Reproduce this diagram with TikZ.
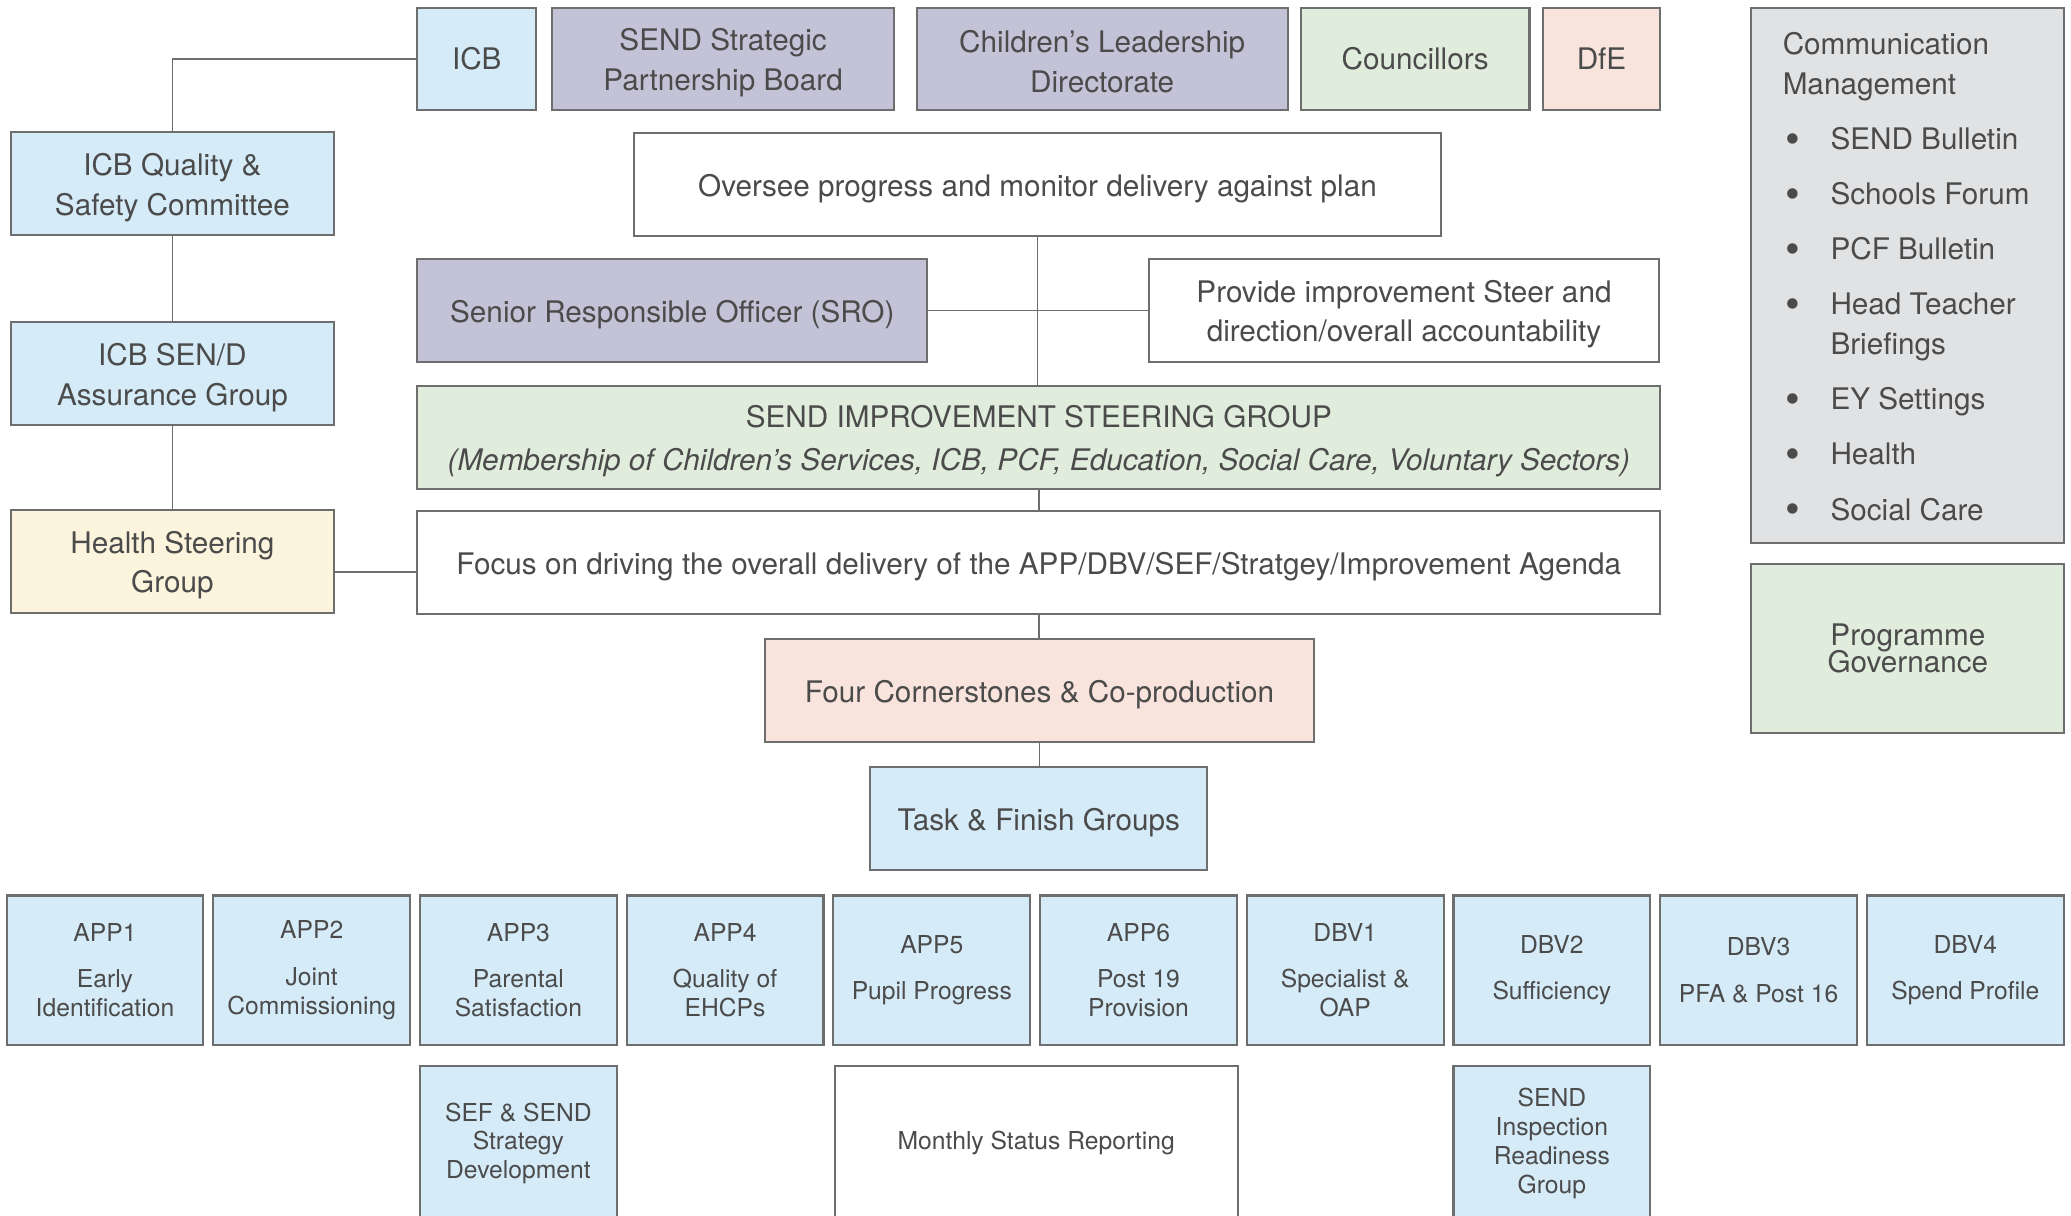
\documentclass[tikz,border=0pt]{standalone}
\usepackage{fontspec}
\setmainfont{TeX Gyre Heros}
\usetikzlibrary{positioning}
\definecolor{icbblue}{HTML}{D5EBF8}
\definecolor{boardlilac}{HTML}{C3C2D6}
\definecolor{govgreen}{HTML}{E1EDDC}
\definecolor{dfepink}{HTML}{F8E4DD}
\definecolor{healthcream}{HTML}{FCF4DC}
\definecolor{commgrey}{HTML}{E1E2E4}
\definecolor{inkgrey}{HTML}{4B4B4B}
\definecolor{edgegrey}{HTML}{6E6E6E}

\begin{document}
\begin{tikzpicture}[
    every node/.style={font=\fontsize{8.45}{11.3}\selectfont, text=inkgrey},
    unit/.style={rectangle, draw=edgegrey, line width=0.6pt, align=center, inner sep=0pt},
    lift/.style={execute at begin node={\rule{0pt}{#1}}},
    lift/.default=8.5pt,
    toprow/.style={unit, minimum height=1.017cm},
    band/.style={unit, minimum height=1.03cm, lift},
    sidebox/.style={band, minimum width=3.236cm, lift=19.8pt},
    tf/.style={unit, fill=icbblue, minimum width=1.968cm, minimum height=1.492cm,
               font=\fontsize{7.02}{8.2}\selectfont},
    link/.style={draw=edgegrey, line width=0.5pt}
]
    \clip (0,0) rectangle (20.71,-12.151);

    \node[toprow, fill=icbblue,    minimum width=1.189cm] (icb)     at (4.768,-0.588)  {ICB};
    \node[toprow, fill=boardlilac, minimum width=3.421cm, lift=19.6pt] (board) at (7.231,-0.588)  {SEND Strategic\\Partnership Board};
    \node[toprow, fill=boardlilac, minimum width=3.711cm, lift=19.2pt] (cld)   at (11.022,-0.588) {Children’s Leadership\\Directorate};
    \node[toprow, fill=govgreen,   minimum width=2.285cm] (council) at (14.152,-0.588) {Councillors};
    \node[toprow, fill=dfepink,    minimum width=1.176cm] (dfe)     at (16.015,-0.588) {DfE};

    \node[sidebox, fill=icbblue]     (icbq)    at (1.724,-1.836) {ICB Quality \&\\Safety Committee};
    \node[sidebox, fill=icbblue]     (icbsend) at (1.724,-3.738) {ICB SEN/D\\Assurance Group};
    \node[sidebox, fill=healthcream] (health)  at (1.724,-5.613) {Health Steering\\Group};

    \node[band, fill=white,      minimum width=8.070cm]  (oversee) at (10.375,-1.849) {Oversee progress and monitor delivery against plan};
    \node[band, fill=boardlilac, minimum width=5.098cm]  (sro)     at (6.723,-3.104)  {Senior Responsible Officer (SRO)};
    \node[band, fill=white,      minimum width=5.098cm, lift=19.8pt] (provide) at (14.040,-3.104) {Provide improvement Steer and\\direction/overall accountability};
    \node[band, fill=govgreen,   minimum width=12.429cm, lift=20.9pt] (steer) at (10.388,-4.372) {SEND IMPROVEMENT STEERING GROUP\\[1.1pt]\textit{(Membership of Children’s Services, ICB, PCF, Education, Social Care, Voluntary Sectors)}};
    \node[band, fill=white,      minimum width=12.429cm] (focus)   at (10.388,-5.627) {Focus on driving the overall delivery of the APP/DBV/SEF/Stratgey/Improvement Agenda};
    \node[band, fill=dfepink,    minimum width=5.495cm]  (four)    at (10.395,-6.908) {Four Cornerstones \& Co-production};
    \node[band, fill=icbblue,    minimum width=3.368cm]  (task)    at (10.388,-8.189) {Task \& Finish Groups};

    \node[unit, fill=commgrey, minimum width=3.130cm, minimum height=5.349cm] (comm) at (19.079,-2.754) {};
    \node[anchor=north west, inner sep=0pt] (commtext) at ([xshift=0.317cm, yshift=-0.19cm]comm.north west)
        {\begin{tabular}{@{\hspace{0.03cm}}l@{\hspace{0.3cm}}l@{}}
            \multicolumn{2}{@{}l}{Communication}\\
            \multicolumn{2}{@{}l}{Management}\\[4.4pt]
            \raisebox{-1.1pt}{\large\textbullet} & SEND Bulletin\\[4.4pt]
            \raisebox{-1.1pt}{\large\textbullet} & Schools Forum\\[4.4pt]
            \raisebox{-1.1pt}{\large\textbullet} & PCF Bulletin\\[4.4pt]
            \raisebox{-1.1pt}{\large\textbullet} & Head Teacher\\
                                                 & Briefings\\[4.4pt]
            \raisebox{-1.1pt}{\large\textbullet} & EY Settings\\[4.4pt]
            \raisebox{-1.1pt}{\large\textbullet} & Health\\[4.4pt]
            \raisebox{-1.1pt}{\large\textbullet} & Social Care
        \end{tabular}};
    \node[unit, fill=govgreen, minimum width=3.130cm, minimum height=1.691cm,
          font=\fontsize{8.45}{7.9}\selectfont,
          execute at begin node={\lineskiplimit=-6pt\relax}] (progov) at (19.079,-6.485) {Programme\\Governance};

    \node[tf] (app1) at (1.050,-9.701)  {APP1\\[5pt]Early\\Identification};
    \node[tf] (app2) at (3.117,-9.701)  {APP2\\[5pt]Joint\\Commissioning};
    \node[tf] (app3) at (5.184,-9.701)  {APP3\\[5pt]Parental\\Satisfaction};
    \node[tf] (app4) at (7.251,-9.701)  {APP4\\[5pt]Quality of\\EHCPs};
    \node[tf] (app5) at (9.318,-9.701)  {APP5\\[5pt]Pupil Progress};
    \node[tf] (app6) at (11.385,-9.701) {APP6\\[5pt]Post 19\\Provision};
    \node[tf] (dbv1) at (13.452,-9.701) {DBV1\\[5pt]Specialist \&\\OAP};
    \node[tf] (dbv2) at (15.519,-9.701) {DBV2\\[5pt]Sufficiency};
    \node[tf] (dbv3) at (17.586,-9.701) {DBV3\\[5pt]PFA \& Post 16};
    \node[tf] (dbv4) at (19.653,-9.701) {DBV4\\[5pt]Spend Profile};

    \node[tf, minimum height=1.55cm] (sef) at (5.184,-11.434) {SEF \& SEND\\Strategy\\Development};
    \node[tf, fill=white, minimum width=4.028cm, minimum height=1.55cm] (monthly) at (10.362,-11.434) {Monthly Status Reporting};
    \node[tf, minimum height=1.55cm] (inspect) at (15.519,-11.434) {SEND\\Inspection\\Readiness\\Group};

    \draw[link] (icb.west) -| (icbq.north);
    \draw[link] (icbq.south) -- (icbsend.north);
    \draw[link] (icbsend.south) -- (health.north);
    \draw[link] ([yshift=-0.106cm]health.east) -- ([yshift=-0.106cm]health.east -| focus.west);
    \draw[link] (oversee.south) -- (oversee.south |- steer.north);
    \draw[link] (sro.east) -- (provide.west);
    \draw[link] (steer.south) -- (steer.south |- focus.north);
    \draw[link] (focus.south) -- (focus.south |- four.north);
    \draw[link] (four.south) -- (four.south |- task.north);
\end{tikzpicture}
\end{document}
